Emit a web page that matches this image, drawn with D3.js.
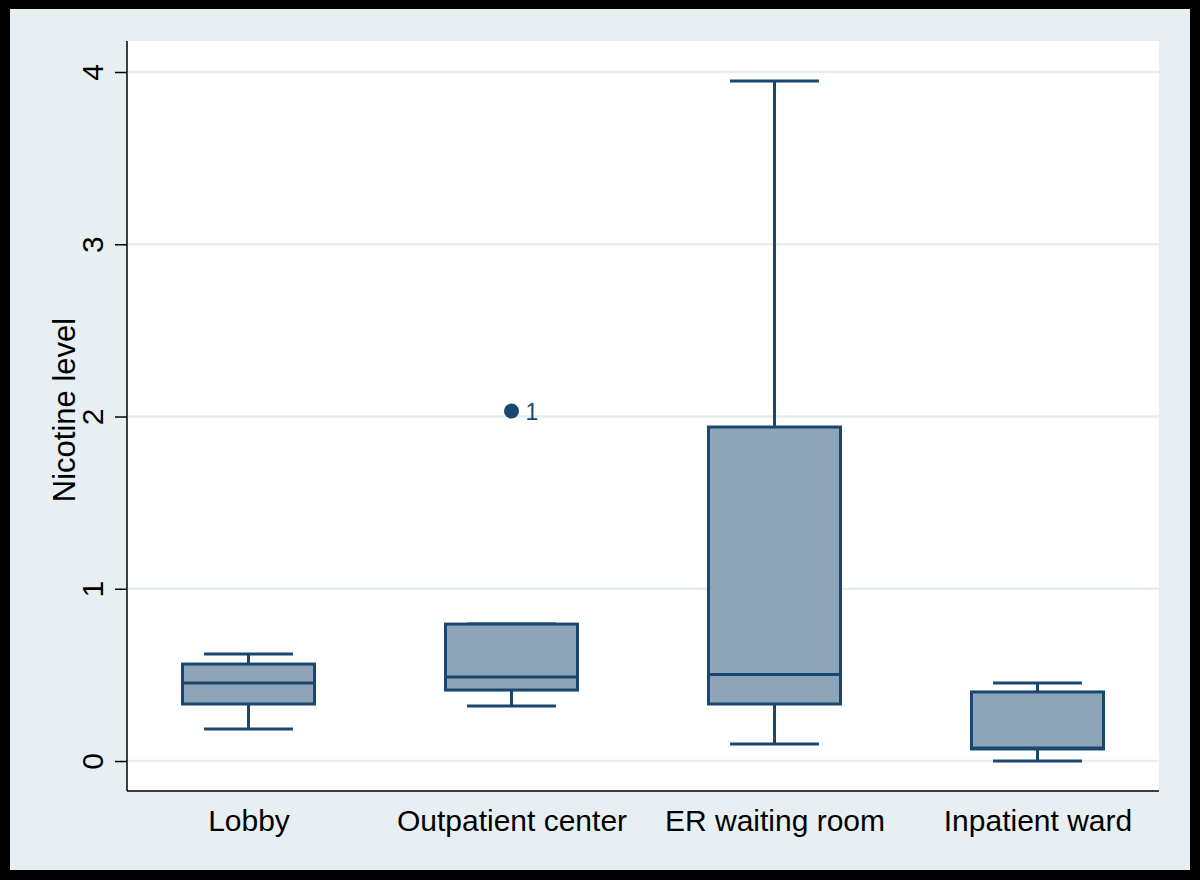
<!DOCTYPE html>
<html>
<head>
<meta charset="utf-8">
<script src="https://cdn.jsdelivr.net/npm/d3@7/dist/d3.min.js"></script>
<style>
  html, body { margin: 0; padding: 0; background: #000; }
  svg { display: block; }
  text { font-family: "Liberation Sans", Arial, Helvetica, sans-serif; }
</style>
</head>
<body>
<svg id="chart" width="1200" height="880"></svg>
<script>
// ---- Data ----
const categories = ["Lobby", "Outpatient center", "ER waiting room", "Inpatient ward"];
const whiskerLow  = [0.186, 0.319, 0.099, 0.000];
const q1          = [0.331, 0.412, 0.331, 0.070];
const median      = [0.453, 0.488, 0.502, 0.076];
const q3          = [0.563, 0.795, 1.939, 0.401];
const whiskerHigh = [0.621, 0.795, 3.948, 0.453];
const outlierCategory = ["Outpatient center"];
const outlierValue    = [2.032];
const outlierLabel    = ["1"];
const yTicks = [0, 1, 2, 3, 4];
const yTitle = "Nicotine level";

// ---- Layout ----
const svg = d3.select("#chart");
const W = 1200, H = 880;
const plot = { left: 127, right: 1159, top: 41, bottom: 791 };
const navy = "#1a476f";
const boxFill = "#8ea4b9";
const gridColor = "#e6eef1";

// frame
svg.append("rect").attr("x", 0).attr("y", 0).attr("width", W).attr("height", H).attr("fill", "#000");
svg.append("rect").attr("x", 10).attr("y", 9).attr("width", 1180).attr("height", 861).attr("fill", "#e8eff2");
svg.append("rect").attr("x", plot.left).attr("y", plot.top)
  .attr("width", plot.right - plot.left).attr("height", plot.bottom - plot.top).attr("fill", "#ffffff");

const y = d3.scaleLinear().domain([-0.174, 4.18]).range([plot.bottom, plot.top]);
const x = d3.scalePoint().domain(categories).range([plot.left, plot.right]).padding(0.462);
const step = x.step();
const boxW = step * 0.502;
const capW = step * 0.338;

// gridlines
svg.append("g").selectAll("line").data(yTicks).join("line")
  .attr("x1", plot.left).attr("x2", plot.right)
  .attr("y1", d => y(d)).attr("y2", d => y(d))
  .attr("stroke", gridColor).attr("stroke-width", 2.5);

// y axis
const yAxis = d3.axisLeft(y).tickValues(yTicks).tickSize(12).tickPadding(0).tickFormat(d3.format("d"));
const gy = svg.append("g").attr("transform", `translate(${plot.left},0)`).call(yAxis);
gy.select(".domain").remove();
gy.selectAll(".tick line").attr("stroke", "#000").attr("stroke-width", 1.5);
gy.selectAll(".tick text")
  .attr("transform", "translate(-24,0) rotate(-90)")
  .attr("x", 0).attr("y", 0).attr("dy", 0)
  .attr("text-anchor", "middle")
  .style("font-size", "30px").attr("fill", "#000");

// axis lines
svg.append("line").attr("x1", plot.left).attr("x2", plot.left).attr("y1", plot.top).attr("y2", plot.bottom)
  .attr("stroke", "#000").attr("stroke-width", 1.5);
svg.append("line").attr("x1", plot.left).attr("x2", plot.right).attr("y1", plot.bottom).attr("y2", plot.bottom)
  .attr("stroke", "#000").attr("stroke-width", 1.5);

// x axis labels
const xAxis = d3.axisBottom(x).tickSize(0).tickPadding(0);
const gx = svg.append("g").attr("transform", `translate(0,${plot.bottom})`).call(xAxis);
gx.select(".domain").remove();
gx.selectAll(".tick text").attr("y", 40).attr("dy", 0).style("font-size", "30px").attr("fill", "#000");

// y title
svg.append("text").attr("transform", `translate(75,410) rotate(-90)`)
  .attr("text-anchor", "middle").style("font-size", "31px").attr("fill", "#000").text(yTitle);

// boxes
const boxes = categories.map((c, i) => ({ c, lo: whiskerLow[i], q1: q1[i], med: median[i], q3: q3[i], hi: whiskerHigh[i] }));
const g = svg.append("g");
boxes.forEach(b => {
  const cx = x(b.c);
  const sw = 3;
  g.append("line").attr("x1", cx).attr("x2", cx).attr("y1", y(b.q1)).attr("y2", y(b.lo)).attr("stroke", navy).attr("stroke-width", sw);
  g.append("line").attr("x1", cx).attr("x2", cx).attr("y1", y(b.q3)).attr("y2", y(b.hi)).attr("stroke", navy).attr("stroke-width", sw);
  g.append("line").attr("x1", cx - capW / 2).attr("x2", cx + capW / 2).attr("y1", y(b.lo)).attr("y2", y(b.lo)).attr("stroke", navy).attr("stroke-width", sw);
  g.append("line").attr("x1", cx - capW / 2).attr("x2", cx + capW / 2).attr("y1", y(b.hi)).attr("y2", y(b.hi)).attr("stroke", navy).attr("stroke-width", sw);
  g.append("rect").attr("x", cx - boxW / 2).attr("y", y(b.q3)).attr("width", boxW).attr("height", y(b.q1) - y(b.q3))
    .attr("fill", boxFill).attr("stroke", navy).attr("stroke-width", sw);
  g.append("line").attr("x1", cx - boxW / 2).attr("x2", cx + boxW / 2).attr("y1", y(b.med)).attr("y2", y(b.med)).attr("stroke", navy).attr("stroke-width", sw);
});

// outliers
outlierValue.forEach((v, i) => {
  const cx = x(outlierCategory[i]);
  g.append("circle").attr("cx", cx).attr("cy", y(v)).attr("r", 7.5).attr("fill", navy);
  g.append("text").attr("x", cx + 14).attr("y", y(v) + 8.5).style("font-size", "23px").attr("fill", navy).text(outlierLabel[i]);
});
</script>
</body>
</html>
